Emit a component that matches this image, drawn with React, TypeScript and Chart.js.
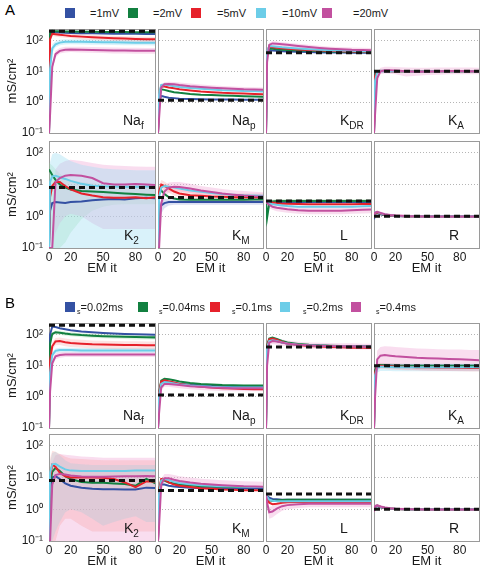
import React, { useEffect, useRef } from 'react';
import { Chart, registerables } from 'chart.js';
Chart.register(...registerables);

// ---------- data ----------
const ITER = [0, 1, 3, 6, 10, 15, 20, 30, 40, 50, 60, 70, 80, 90, 100];
const X_TICKS = [0, 20, 50, 80];
const Y_TICKS = [0.1, 1, 10, 100];
const Y_TICK_LABELS = ['10⁻¹', '10⁰', '10¹', '10²'];
const Y_MAX = 235;
const X_MAX = 98;

const LEGEND_A = ['=1mV', '=2mV', '=5mV', '=10mV', '=20mV'];
const LEGEND_B = ['=0.02ms', '=0.04ms', '=0.1ms', '=0.2ms', '=0.4ms'];
const CHANNEL_MAIN = ['Na', 'Na', 'K', 'K', 'K', 'K', 'L', 'R'];
const CHANNEL_SUB = ['f', 'p', 'DR', 'A', '2', 'M', '', ''];
const TRUE_VALUES = [200, 1.15, 40, 10, 8, 3.9, 3.0, 1.0];

// series order: blue, green, red, cyan, magenta
const A_NAF = [
  [0.1, 150, 190, 185, 180, 178, 175, 172, 170, 168, 166, 165, 164, 163, 162],
  [0.1, 170, 205, 200, 197, 195, 194, 192, 190, 189, 188, 187, 186, 186, 185],
  [0.1, 110, 165, 160, 152, 146, 140, 133, 127, 122, 118, 115, 112, 110, 108],
  [0.1, 12, 55, 75, 85, 90, 91, 90, 89, 88, 87, 86, 85, 85, 84],
  [0.1, 0.4, 14, 36, 46, 50, 51, 50, 49, 48, 47, 47, 46, 46, 46],
];
const A_NAF_BANDS = [
  [2, [0.1, 90, 140, 135, 128, 122, 117, 110, 104, 100, 96, 93, 90, 88, 87], [0.1, 130, 190, 185, 178, 172, 166, 158, 152, 146, 142, 138, 135, 132, 130]],
  [3, [0.1, 6, 40, 60, 70, 74, 75, 74, 73, 72, 71, 70, 70, 70, 69], [0.1, 20, 75, 95, 105, 110, 110, 110, 108, 107, 106, 105, 104, 104, 103]],
  [4, [0.1, 0.2, 10, 28, 38, 41, 42, 41, 40, 39, 38, 38, 37, 37, 37], [0.1, 0.8, 20, 46, 57, 62, 63, 62, 61, 60, 59, 58, 58, 57, 57]],
];
const A_NAP = [
  [0.1, 1.1, 1.6, 1.5, 1.4, 1.35, 1.3, 1.27, 1.25, 1.23, 1.22, 1.21, 1.2, 1.2, 1.2],
  [0.1, 1.4, 2.6, 2.5, 2.3, 2.1, 2.0, 1.85, 1.75, 1.7, 1.65, 1.6, 1.55, 1.52, 1.5],
  [0.1, 1.6, 3.3, 3.2, 3.0, 2.8, 2.6, 2.4, 2.2, 2.1, 2.0, 1.95, 1.9, 1.85, 1.8],
  [0.1, 1.8, 3.6, 3.7, 3.5, 3.3, 3.1, 2.9, 2.7, 2.55, 2.45, 2.4, 2.3, 2.25, 2.2],
  [0.1, 0.3, 3.0, 3.8, 3.9, 3.8, 3.6, 3.3, 3.1, 2.95, 2.8, 2.7, 2.6, 2.55, 2.5],
];
const A_NAP_BANDS = [
  [4, [0.1, 0.2, 2.5, 3.2, 3.3, 3.2, 3.0, 2.8, 2.6, 2.5, 2.4, 2.3, 2.2, 2.15, 2.1], [0.1, 0.4, 3.6, 4.4, 4.6, 4.5, 4.3, 4.0, 3.7, 3.5, 3.35, 3.2, 3.1, 3.05, 3.0]],
];
const A_KDR = [
  [0.1, 35, 48, 47, 46, 45, 44, 43, 42, 41, 41, 41, 40, 40, 40],
  [0.1, 40, 55, 54, 52, 50, 49, 47, 46, 45, 44, 43, 43, 42, 42],
  [0.1, 45, 62, 60, 58, 56, 54, 51, 49, 47, 46, 45, 44, 44, 43],
  [0.1, 45, 66, 65, 63, 60, 58, 55, 52, 50, 48, 47, 46, 45, 45],
  [0.1, 20, 72, 80, 78, 75, 72, 66, 61, 57, 54, 52, 50, 49, 48],
];
const A_KDR_BANDS = [
  [4, [0.1, 15, 62, 68, 66, 63, 60, 56, 52, 49, 47, 45, 44, 43, 42], [0.1, 25, 84, 94, 92, 88, 85, 78, 72, 67, 63, 61, 59, 58, 57]],
];
const A_KA = [
  [0.1, 8.5, 10, 10.2, 10.1, 10, 10, 10, 10, 10, 10, 10, 10, 10, 10],
  [0.1, 8, 10, 10.3, 10.2, 10.1, 10, 10, 10, 10, 10, 10, 10, 10, 10],
  [0.1, 7, 9.8, 10.4, 10.3, 10.2, 10.1, 10, 10, 10, 10, 10, 10, 10, 10],
  [0.1, 5, 9.5, 10.5, 10.5, 10.3, 10.2, 10, 9.9, 10, 10, 10, 10, 10, 10],
  [0.1, 0.4, 6, 10, 10.8, 10.8, 10.6, 10, 9.6, 9.8, 10, 10.2, 10.2, 10.1, 10],
];
const A_KA_BANDS = [
  [4, [0.1, 0.2, 4.5, 8, 8.5, 8.3, 8, 6.8, 7.2, 7.6, 7.8, 8, 8, 8, 8], [0.1, 0.7, 8, 13, 14, 14, 13.8, 13.2, 13, 13, 13.2, 13.3, 13.3, 13.2, 13]],
];
const A_K2 = [
  [0.1, 1.5, 2.6, 2.8, 2.7, 2.6, 2.8, 2.9, 3.2, 3.4, 3.5, 3.4, 3.7, 3.8, 3.7],
  [30, 26, 20, 14, 10, 8, 7, 6.2, 6.0, 5.8, 5.5, 5.2, 5.0, 4.8, 4.6],
  [0.1, 4, 9, 12, 12, 9, 7, 5.2, 4.5, 4.0, 3.8, 3.8, 4.0, 3.7, 4.0],
  [0.1, 12, 18, 19, 17, 15, 13, 10.5, 9.2, 8.8, 8.6, 8.5, 8.5, 8.6, 8.7],
  [0.1, 0.1, 0.1, 12, 16, 19, 20, 19, 16, 11, 10, 10, 10.3, 10, 9.6],
];
const A_K2_BANDS = [
  [3, [0.1, 0.1, 0.1, 0.1, 0.1, 0.1, 0.1, 0.1, 0.1, 0.1, 0.1, 0.1, 0.1, 0.1, 0.1], [0.1, 50, 90, 100, 90, 70, 55, 42, 36, 32, 30, 29, 28, 28, 28]],
  [4, [0.1, 0.1, 0.1, 0.3, 0.6, 1.0, 1.2, 1.0, 0.6, 0.4, 0.4, 0.4, 0.4, 0.4, 0.4], [0.1, 0.1, 0.1, 30, 45, 55, 60, 55, 48, 42, 40, 38, 37, 36, 36]],
  [1, [8, 4, 0.1, 0.1, 0.1, 0.15, 0.3, 0.8, 1.5, 2, 2.3, 2.4, 2.4, 2.4, 2.4], [50, 45, 40, 30, 22, 17, 14, 12, 11, 10, 9.5, 9, 8.5, 8.3, 8]],
];
const A_KM = [
  [0.1, 1.2, 2.2, 2.6, 2.8, 2.8, 2.8, 2.8, 2.8, 2.8, 2.8, 2.8, 2.8, 2.8, 2.8],
  [0.1, 5, 6.5, 5, 4.0, 3.6, 3.4, 3.3, 3.3, 3.3, 3.3, 3.3, 3.3, 3.35, 3.4],
  [0.1, 6, 10, 9, 7.5, 6, 5.2, 4.6, 4.4, 4.2, 4.1, 4.0, 4.0, 4.0, 4.0],
  [0.1, 4, 8, 9, 8.5, 8, 7.5, 6.5, 5.9, 5.4, 5.0, 4.8, 4.6, 4.5, 4.4],
  [0.1, 0.1, 2.5, 6, 8, 8.5, 8.4, 7.5, 6.5, 5.8, 5.2, 4.8, 4.5, 4.3, 4.2],
];
const A_KM_BANDS = [
  [0, [0.1, 0.6, 1.2, 1.8, 2.2, 2.3, 2.3, 2.3, 2.3, 2.3, 2.3, 2.3, 2.3, 2.3, 2.3], [0.1, 2, 3.5, 3.6, 3.5, 3.4, 3.4, 3.4, 3.4, 3.4, 3.4, 3.4, 3.4, 3.4, 3.4]],
  [2, [0.1, 4, 7, 6.5, 5.5, 4.5, 4, 3.6, 3.4, 3.3, 3.2, 3.1, 3.1, 3.1, 3.1], [0.1, 8, 14, 12.5, 10, 8, 7, 6, 5.7, 5.4, 5.3, 5.2, 5.2, 5.2, 5.2]],
  [4, [0.1, 0.1, 1.5, 4, 5.5, 6, 6, 5.4, 4.8, 4.3, 3.9, 3.6, 3.4, 3.3, 3.2], [0.1, 0.1, 4, 9, 11.5, 12, 12, 10.5, 9, 8, 7.2, 6.6, 6.2, 5.9, 5.7]],
];
const A_L = [
  [2.9, 2.8, 2.8, 2.8, 2.8, 2.8, 2.8, 2.8, 2.8, 2.8, 2.8, 2.8, 2.8, 2.8, 2.8],
  [3.0, 0.9, 2.5, 2.9, 3.0, 3.0, 3.0, 3.0, 3.0, 3.0, 3.0, 3.0, 3.0, 3.0, 3.0],
  [3.0, 2.8, 2.8, 2.7, 2.6, 2.5, 2.5, 2.45, 2.4, 2.4, 2.4, 2.4, 2.4, 2.45, 2.45],
  [3.0, 2.7, 2.6, 2.4, 2.3, 2.2, 2.1, 2.0, 2.0, 2.0, 2.0, 2.0, 2.0, 2.05, 2.1],
  [3.0, 2.6, 2.3, 2.0, 1.85, 1.75, 1.65, 1.55, 1.5, 1.5, 1.5, 1.5, 1.55, 1.6, 1.65],
];
const A_L_BANDS = [
  [1, [2.5, 0.5, 1.8, 2.5, 2.6, 2.6, 2.6, 2.6, 2.6, 2.6, 2.6, 2.6, 2.6, 2.6, 2.6], [3.5, 1.5, 3.2, 3.4, 3.5, 3.5, 3.5, 3.5, 3.5, 3.5, 3.5, 3.5, 3.5, 3.5, 3.5]],
  [4, [2.5, 2.1, 1.8, 1.6, 1.45, 1.35, 1.28, 1.2, 1.15, 1.15, 1.15, 1.15, 1.2, 1.22, 1.25], [3.5, 3.2, 2.9, 2.6, 2.4, 2.3, 2.2, 2.05, 2.0, 2.0, 2.0, 2.0, 2.05, 2.1, 2.15]],
];
const A_R = [
  [0.8, 1.2, 1.25, 1.15, 1.08, 1.04, 1.02, 1.0, 1.0, 1.0, 1.0, 1.0, 1.0, 1.0, 1.0],
  [0.9, 1.25, 1.3, 1.2, 1.1, 1.05, 1.02, 1.0, 1.0, 1.0, 1.0, 1.0, 1.0, 1.0, 1.0],
  [0.9, 1.25, 1.32, 1.22, 1.12, 1.06, 1.03, 1.0, 1.0, 1.0, 1.0, 1.0, 1.0, 1.0, 1.0],
  [0.9, 1.3, 1.35, 1.25, 1.14, 1.08, 1.04, 1.01, 1.0, 1.0, 1.0, 1.0, 1.0, 1.0, 1.0],
  [0.9, 1.3, 1.38, 1.28, 1.16, 1.1, 1.06, 1.02, 1.0, 0.98, 0.98, 0.98, 0.98, 0.98, 0.98],
];
const A_R_BANDS = [
  [4, [0.8, 1.15, 1.22, 1.14, 1.04, 0.99, 0.95, 0.92, 0.9, 0.88, 0.88, 0.88, 0.88, 0.88, 0.88], [1.0, 1.45, 1.52, 1.42, 1.28, 1.21, 1.17, 1.12, 1.1, 1.08, 1.08, 1.08, 1.08, 1.08, 1.08]],
];

const B_NAF = [
  [0.1, 100, 180, 175, 160, 148, 138, 125, 118, 112, 108, 105, 102, 100, 98],
  [0.1, 50, 105, 118, 115, 108, 103, 96, 92, 89, 87, 85, 83, 82, 81],
  [0.1, 15, 42, 60, 62, 57, 54, 51, 49, 48, 47, 46, 46, 45, 45],
  [0.1, 6, 22, 30, 32, 32, 32, 31, 31, 31, 31, 31, 31, 31, 31],
  [0.1, 1.5, 12, 20, 22, 23, 23, 23, 23, 23, 23, 23, 23, 23, 23],
];
const B_NAF_BANDS = [
  [1, [0.1, 40, 90, 100, 98, 92, 88, 82, 78, 76, 74, 72, 70, 70, 69], [0.1, 60, 120, 136, 132, 124, 118, 110, 106, 102, 100, 98, 96, 94, 93]],
  [2, [0.1, 10, 32, 45, 46, 42, 40, 38, 36, 35, 34, 34, 34, 33, 33], [0.1, 20, 55, 78, 80, 75, 71, 68, 65, 63, 62, 61, 61, 60, 60]],
  [3, [0.1, 4, 18, 25, 27, 27, 27, 26, 26, 26, 26, 26, 26, 26, 26], [0.1, 8, 27, 36, 38, 38, 38, 37, 37, 37, 37, 37, 37, 37, 37]],
  [4, [0.1, 1, 9, 16, 18, 19, 19, 19, 19, 19, 19, 19, 19, 19, 19], [0.1, 2, 15, 25, 27, 28, 28, 28, 28, 28, 28, 28, 28, 28, 28]],
];
const B_NAP = [
  [0.1, 1.2, 2.8, 3.1, 3.0, 2.8, 2.6, 2.45, 2.35, 2.3, 2.25, 2.2, 2.2, 2.2, 2.2],
  [0.1, 1.3, 3.3, 3.8, 3.7, 3.4, 3.1, 2.8, 2.6, 2.5, 2.4, 2.35, 2.3, 2.3, 2.3],
  [0.1, 1.3, 3.1, 3.4, 3.2, 2.9, 2.6, 2.3, 2.1, 2.0, 1.9, 1.85, 1.8, 1.75, 1.75],
  [0.1, 1.1, 2.6, 3.0, 2.9, 2.7, 2.5, 2.3, 2.2, 2.1, 2.05, 2.0, 2.0, 2.0, 2.0],
  [0.1, 0.3, 2.0, 2.6, 2.6, 2.5, 2.4, 2.2, 2.1, 2.0, 1.95, 1.9, 1.9, 1.9, 1.9],
];
const B_NAP_BANDS = [
  [4, [0.1, 0.2, 1.6, 2.1, 2.1, 2.0, 1.9, 1.75, 1.65, 1.6, 1.55, 1.5, 1.5, 1.5, 1.5], [0.1, 0.5, 2.5, 3.2, 3.2, 3.1, 3.0, 2.75, 2.6, 2.5, 2.45, 2.4, 2.4, 2.4, 2.4]],
];
const B_KDR = [
  [0.1, 40, 65, 68, 62, 56, 52, 47, 45, 44, 43, 43, 42, 42, 42],
  [0.1, 45, 75, 80, 72, 62, 56, 50, 47, 45, 44, 43, 43, 42, 42],
  [0.1, 42, 70, 75, 68, 58, 52, 46, 43, 41, 40, 39, 38, 38, 37],
  [0.1, 38, 62, 66, 62, 56, 52, 47, 45, 44, 43, 42, 42, 41, 41],
  [0.1, 10, 55, 62, 60, 55, 51, 47, 45, 44, 43, 42, 42, 41, 41],
];
const B_KDR_BANDS = [
  [4, [0.1, 8, 44, 50, 48, 44, 41, 38, 36, 35, 34, 34, 34, 33, 33], [0.1, 13, 69, 78, 75, 69, 64, 59, 56, 55, 54, 53, 53, 51, 51]],
];
const B_KA = [
  [0.1, 7, 10, 10.3, 10.2, 10.1, 10, 10, 10, 10, 10, 10, 10, 10, 10],
  [0.1, 7, 10.2, 10.5, 10.3, 10.1, 10, 10, 10, 10, 10, 10, 10, 10, 10],
  [0.1, 6, 9.5, 10, 9.8, 9.6, 9.4, 9.2, 9.0, 8.9, 8.8, 8.7, 8.6, 8.5, 8.5],
  [0.1, 5, 8.5, 9.3, 9.2, 9.1, 9.0, 9.0, 9.0, 9.0, 9.0, 9.0, 9.0, 9.0, 9.0],
  [0.1, 1, 16, 21, 22, 21, 20, 19, 18, 17.5, 17, 16.5, 16, 15.5, 15],
];
const B_KA_BANDS = [
  [2, [0.1, 4, 7.5, 8, 7.8, 7.6, 7.4, 7.2, 7.0, 6.9, 6.8, 6.7, 6.6, 6.5, 6.5], [0.1, 8, 12, 12.5, 12.2, 12, 11.7, 11.4, 11.2, 11, 10.9, 10.8, 10.7, 10.6, 10.6]],
  [3, [0.1, 3, 6, 6.8, 6.8, 6.7, 6.6, 6.6, 6.6, 6.6, 6.6, 6.6, 6.6, 6.6, 6.6], [0.1, 7, 11, 12, 12, 11.8, 11.6, 11.5, 11.5, 11.5, 11.5, 11.5, 11.5, 11.5, 11.5]],
  [4, [0.1, 0.5, 7, 8.5, 8.5, 8.2, 8, 7.6, 7.3, 7, 7, 6.8, 6.8, 6.8, 6.8], [0.1, 2, 30, 40, 42, 41, 40, 38, 36, 35, 34, 33, 33, 32, 32]],
];
const B_K2 = [
  [0.1, 4, 10, 11, 9, 6.5, 5.5, 4.8, 4.4, 4.3, 4.3, 4.2, 4.2, 4.8, 4.6],
  [0.1, 6, 15, 20, 16, 11, 9, 7.2, 6.8, 6.8, 6.5, 6.2, 5.5, 9, 6.2],
  [0.1, 10, 25, 22, 14, 11, 10, 10, 10, 9.8, 9, 7, 5, 7.5, 7.5],
  [0.1, 14, 26, 27, 22, 18, 16.5, 16, 16, 16, 16, 16, 16.5, 16.5, 16.5],
  [0.1, 0.1, 6, 12, 13, 12.5, 11.5, 10.8, 10.5, 10.5, 10.8, 11, 11, 11.2, 11],
];
const B_K2_BANDS = [
  [2, [0.1, 0.1, 0.1, 0.1, 0.3, 0.5, 0.5, 0.3, 0.2, 0.2, 0.2, 0.2, 0.2, 0.2, 0.2], [0.1, 40, 70, 65, 55, 45, 40, 38, 36, 35, 35, 35, 35, 35, 35]],
  [3, [0.1, 0.1, 0.1, 0.2, 0.4, 0.8, 1.0, 0.8, 0.5, 0.3, 0.4, 0.5, 0.6, 0.4, 0.4], [0.1, 30, 60, 65, 50, 35, 28, 26, 25, 25, 25, 25, 25, 25, 25]],
  [4, [0.1, 0.1, 0.1, 0.1, 0.1, 0.1, 0.1, 0.1, 0.1, 0.1, 0.1, 0.1, 0.1, 0.1, 0.1], [0.1, 0.1, 30, 50, 55, 52, 50, 46, 44, 42, 42, 42, 42, 42, 42]],
];
const B_KM = [
  [0.1, 3, 6, 6, 5.5, 5.2, 5, 4.8, 4.7, 4.6, 4.6, 4.5, 4.5, 4.5, 4.5],
  [0.1, 4, 8, 8, 7, 6.5, 6, 5.6, 5.3, 5.2, 5.1, 5.0, 5.0, 5.0, 5.0],
  [0.1, 4, 9, 8.5, 7, 6, 5.5, 5, 4.6, 4.4, 4.2, 4.1, 4.0, 4.0, 4.0],
  [0.1, 3, 8, 9, 8.3, 7.3, 6.7, 6.1, 5.7, 5.5, 5.3, 5.2, 5.1, 5.0, 5.0],
  [0.1, 0.3, 6, 9.5, 9.5, 8.5, 7.8, 7, 6.4, 6, 5.7, 5.5, 5.3, 5.2, 5.1],
];
const B_KM_BANDS = [
  [4, [0.1, 0.2, 4, 6.5, 6.5, 6, 5.5, 5, 4.6, 4.3, 4.1, 4, 3.9, 3.8, 3.8], [0.1, 0.5, 9, 13, 13, 12, 11, 10, 9.2, 8.6, 8.2, 7.9, 7.6, 7.5, 7.3]],
];
const B_L = [
  [3.0, 2.6, 2.3, 2.1, 2.05, 2.0, 2.0, 2.0, 2.0, 2.0, 2.0, 2.0, 2.0, 2.0, 2.0],
  [3.0, 2.2, 1.9, 1.85, 1.9, 1.95, 2.0, 2.0, 2.0, 2.0, 2.0, 2.0, 2.0, 2.0, 2.0],
  [3.0, 2.3, 1.6, 1.45, 1.5, 1.6, 1.65, 1.7, 1.7, 1.7, 1.7, 1.7, 1.7, 1.7, 1.7],
  [3.0, 2.5, 2.0, 1.85, 1.8, 1.8, 1.8, 1.8, 1.8, 1.8, 1.8, 1.8, 1.8, 1.8, 1.8],
  [3.0, 1.6, 0.8, 0.85, 1.05, 1.25, 1.35, 1.45, 1.5, 1.5, 1.5, 1.5, 1.5, 1.5, 1.5],
];
const B_L_BANDS = [
  [4, [2.5, 1.2, 0.5, 0.55, 0.7, 0.9, 1.0, 1.1, 1.15, 1.15, 1.15, 1.15, 1.15, 1.15, 1.15], [3.5, 2.1, 1.2, 1.25, 1.5, 1.7, 1.8, 1.9, 1.95, 1.95, 1.95, 1.95, 1.95, 1.95, 1.95]],
];
const B_R = [
  [0.9, 1.2, 1.25, 1.15, 1.08, 1.04, 1.02, 1.0, 1.0, 1.0, 1.0, 1.0, 1.0, 1.0, 1.0],
  [0.9, 1.22, 1.28, 1.18, 1.1, 1.05, 1.02, 1.0, 1.0, 1.0, 1.0, 1.0, 1.0, 1.0, 1.0],
  [0.9, 1.25, 1.3, 1.2, 1.1, 1.05, 1.02, 1.0, 1.0, 1.0, 1.0, 1.0, 1.0, 1.0, 1.0],
  [0.9, 1.25, 1.3, 1.2, 1.12, 1.06, 1.03, 1.0, 1.0, 1.0, 1.0, 1.0, 1.0, 1.0, 1.0],
  [0.85, 1.25, 1.32, 1.22, 1.13, 1.07, 1.04, 1.01, 1.0, 0.99, 0.99, 0.99, 0.99, 0.99, 0.99],
];
const B_R_BANDS = [
  [4, [0.75, 1.1, 1.18, 1.1, 1.02, 0.97, 0.94, 0.92, 0.9, 0.89, 0.89, 0.89, 0.89, 0.89, 0.89], [0.95, 1.4, 1.48, 1.36, 1.25, 1.18, 1.14, 1.11, 1.1, 1.09, 1.09, 1.09, 1.09, 1.09, 1.09]],
];

const PANEL_A_LINES = [A_NAF, A_NAP, A_KDR, A_KA, A_K2, A_KM, A_L, A_R];
const PANEL_A_BANDS = [A_NAF_BANDS, A_NAP_BANDS, A_KDR_BANDS, A_KA_BANDS, A_K2_BANDS, A_KM_BANDS, A_L_BANDS, A_R_BANDS];
const PANEL_B_LINES = [B_NAF, B_NAP, B_KDR, B_KA, B_K2, B_KM, B_L, B_R];
const PANEL_B_BANDS = [B_NAF_BANDS, B_NAP_BANDS, B_KDR_BANDS, B_KA_BANDS, B_K2_BANDS, B_KM_BANDS, B_L_BANDS, B_R_BANDS];

// ---------- styles / layout ----------
const LINE_COLORS = ['#3451a3', '#128040', '#e6212b', '#6ccde8', '#c2509f'];
const BAND_COLORS = [
  'rgba(110,130,205,0.25)',
  'rgba(140,215,150,0.28)',
  'rgba(248,150,150,0.28)',
  'rgba(160,222,242,0.40)',
  'rgba(240,170,215,0.40)',
];
const FRAME = '#9a9a9a';
const GRID = '#b5b5b5';
const FONT = "'Liberation Sans', Arial, Helvetica, sans-serif";
const COL_LEFT = [49, 158, 266, 374];
const COL_WIDTH = [106, 105, 105, 105];
const ROW_TOP = [29, 141, 323, 434];
const ROW_HEIGHT = [104, 107, 105, 107];
const LABEL_LEFT = [123, 232, 340, 448, 124, 232, 340, 449];

Chart.defaults.font.family = FONT;
Chart.defaults.color = '#1a1a1a';

type Band = [number, number[], number[]];

const zeroPad = (s: any) => {
  s.paddingTop = 0;
  s.paddingBottom = 0;
  s.paddingLeft = 0;
  s.paddingRight = 0;
};

function SubPlot(props: {
  lines: number[][];
  bands: Band[];
  truth: number;
  left: number;
  top: number;
  width: number;
  height: number;
  showY: boolean;
  showX: boolean;
}) {
  const { lines, bands, truth, left, top, width, height, showY, showX } = props;
  const ref = useRef<HTMLCanvasElement>(null);
  const padL = showY ? left : 6;
  const padR = 6;
  const padT = 2;
  const padB = showX ? 28 : showY ? 9 : 2;
  const cw = padL + width + padR;
  const ch = padT + height + padB;

  useEffect(() => {
    const datasets: any[] = [];
    bands.forEach(([si, lo, hi]) => {
      datasets.push({
        data: ITER.map((x, i) => ({ x, y: lo[i] })),
        borderWidth: 0,
        pointRadius: 0,
        fill: false,
        borderColor: 'rgba(0,0,0,0)',
        backgroundColor: 'rgba(0,0,0,0)',
        order: 20,
      });
      datasets.push({
        data: ITER.map((x, i) => ({ x, y: hi[i] })),
        borderWidth: 0,
        pointRadius: 0,
        fill: '-1',
        borderColor: 'rgba(0,0,0,0)',
        backgroundColor: BAND_COLORS[si],
        order: 20,
      });
    });
    lines.forEach((ys, si) => {
      datasets.push({
        data: ITER.map((x, i) => ({ x, y: ys[i] })),
        borderColor: LINE_COLORS[si],
        backgroundColor: LINE_COLORS[si],
        borderWidth: 2,
        pointRadius: 0,
        fill: false,
        tension: 0,
        order: 5 - si,
      });
    });
    datasets.push({
      data: [
        { x: 0, y: truth },
        { x: X_MAX, y: truth },
      ],
      borderColor: '#111111',
      backgroundColor: '#111111',
      borderWidth: 3,
      borderDash: [6, 4],
      pointRadius: 0,
      fill: false,
      order: 0,
    });

    const chart = new Chart(ref.current as HTMLCanvasElement, {
      type: 'line',
      data: { datasets },
      options: {
        responsive: false,
        animation: false,
        devicePixelRatio: 1,
        events: [],
        layout: { padding: { left: showY ? 0 : padL, right: padR, top: padT, bottom: showX ? 0 : padB } },
        plugins: {
          legend: { display: false },
          tooltip: { enabled: false },
          colors: { enabled: false },
          filler: { drawTime: 'beforeDatasetsDraw' },
        } as any,
        scales: {
          x: {
            type: 'linear',
            position: 'bottom',
            min: 0,
            max: X_MAX,
            border: { display: true, color: FRAME, width: 1 },
            grid: { display: false, drawTicks: false },
            ticks: { display: showX, padding: 2, font: { size: 12 }, autoSkip: false, maxRotation: 0 },
            title: { display: showX, text: 'EM it', font: { size: 13 }, padding: 0 },
            afterBuildTicks: (s: any) => {
              s.ticks = X_TICKS.map((v) => ({ value: v }));
            },
            afterFit: (s: any) => {
              s.height = showX ? 28 : 0;
              zeroPad(s);
            },
          },
          xTop: {
            type: 'linear',
            position: 'top',
            min: 0,
            max: X_MAX,
            border: { display: true, color: FRAME, width: 1 },
            grid: { display: false, drawTicks: false },
            ticks: { display: false },
            afterFit: (s: any) => {
              s.height = 0;
              zeroPad(s);
            },
          },
          y: {
            type: 'logarithmic',
            position: 'left',
            min: 0.1,
            max: Y_MAX,
            border: { display: true, color: FRAME, width: 1, dash: [1, 2] },
            grid: { display: true, color: GRID, lineWidth: 1, drawTicks: false },
            ticks: {
              display: showY,
              padding: 6,
              font: { size: 12 },
              callback: (v: any) => {
                const i = Y_TICKS.findIndex((t) => Math.abs(t - Number(v)) < 1e-9);
                return i >= 0 ? Y_TICK_LABELS[i] : '';
              },
            },
            title: { display: showY, text: 'mS/cm²', font: { size: 13 }, padding: { top: 5, bottom: 0 } },
            afterBuildTicks: (s: any) => {
              s.ticks = Y_TICKS.map((v) => ({ value: v }));
            },
            afterFit: (s: any) => {
              s.width = showY ? padL : 0;
              zeroPad(s);
            },
          },
          yRight: {
            type: 'logarithmic',
            position: 'right',
            min: 0.1,
            max: Y_MAX,
            border: { display: true, color: FRAME, width: 1 },
            grid: { display: false, drawTicks: false },
            ticks: { display: false },
            afterFit: (s: any) => {
              s.width = 0;
              zeroPad(s);
            },
          },
        } as any,
      },
    });
    return () => chart.destroy();
  }, []);

  return (
    <canvas
      ref={ref}
      width={cw}
      height={ch}
      style={{ position: 'absolute', left: left - padL, top: top - padT, width: cw, height: ch }}
    />
  );
}

function ChannelLabel({ idx, frameBottom }: { idx: number; frameBottom: number }) {
  return (
    <div
      style={{
        position: 'absolute',
        left: LABEL_LEFT[idx],
        top: frameBottom - 21,
        fontSize: 14,
        lineHeight: '16px',
        color: '#1a1a1a',
        whiteSpace: 'nowrap',
      }}
    >
      {CHANNEL_MAIN[idx]}
      {CHANNEL_SUB[idx] ? (
        <span style={{ fontSize: 10, position: 'relative', top: 4 }}>{CHANNEL_SUB[idx]}</span>
      ) : null}
    </div>
  );
}

function Legend({ y, swatchX, textX, labels, withSub }: { y: number; swatchX: number[]; textX: number[]; labels: string[]; withSub: boolean }) {
  return (
    <>
      {labels.map((lab, i) => (
        <React.Fragment key={i}>
          <div
            style={{ position: 'absolute', left: swatchX[i], top: y - 5, width: 10, height: 10, background: LINE_COLORS[i] }}
          />
          <div
            style={{ position: 'absolute', left: textX[i], top: y - 7, fontSize: 11, lineHeight: '14px', whiteSpace: 'nowrap', color: '#1a1a1a' }}
          >
            {withSub ? <span style={{ fontSize: 7, position: 'relative', top: 3 }}>s</span> : null}
            {lab}
          </div>
        </React.Fragment>
      ))}
    </>
  );
}

function Panel({ linesSet, bandsSet, rowOffset }: { linesSet: number[][][]; bandsSet: Band[][]; rowOffset: number }) {
  const items = [];
  for (let k = 0; k < 8; k++) {
    const r = rowOffset + Math.floor(k / 4);
    const c = k % 4;
    items.push(
      <SubPlot
        key={'p' + k}
        lines={linesSet[k]}
        bands={bandsSet[k]}
        truth={TRUE_VALUES[k]}
        left={COL_LEFT[c]}
        top={ROW_TOP[r]}
        width={COL_WIDTH[c]}
        height={ROW_HEIGHT[r]}
        showY={c === 0}
        showX={k >= 4}
      />
    );
    items.push(<ChannelLabel key={'l' + k} idx={k} frameBottom={ROW_TOP[r] + ROW_HEIGHT[r]} />);
  }
  return <>{items}</>;
}

export default function App() {
  return (
    <div
      style={{
        position: 'absolute',
        left: 0,
        top: 0,
        width: 481,
        height: 571,
        background: '#ffffff',
        fontFamily: FONT,
        overflow: 'hidden',
      }}
    >
      <div style={{ position: 'absolute', left: 5, top: 2, fontSize: 15, lineHeight: '16px' }}>A</div>
      <Legend y={13} swatchX={[65, 128, 191, 256, 322]} textX={[90, 153, 217, 282, 353]} labels={LEGEND_A} withSub={false} />
      <Panel linesSet={PANEL_A_LINES} bandsSet={PANEL_A_BANDS as any} rowOffset={0} />
      <div style={{ position: 'absolute', left: 5, top: 295, fontSize: 15, lineHeight: '16px' }}>B</div>
      <Legend y={307} swatchX={[65, 138, 210, 280, 351]} textX={[77, 159, 232, 303, 376]} labels={LEGEND_B} withSub={true} />
      <Panel linesSet={PANEL_B_LINES} bandsSet={PANEL_B_BANDS as any} rowOffset={2} />
    </div>
  );
}
